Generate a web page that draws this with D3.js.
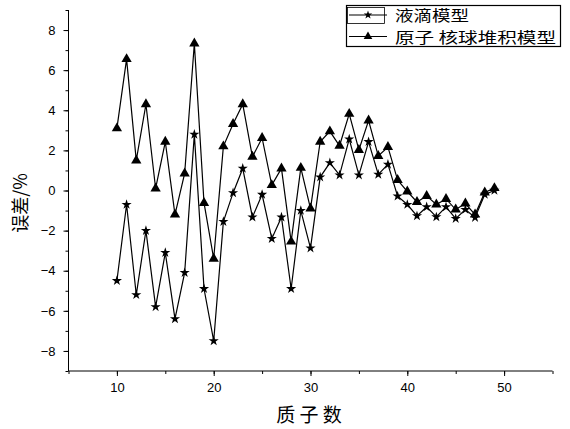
<!DOCTYPE html>
<html>
<head>
<meta charset="utf-8">
<script src="https://cdn.jsdelivr.net/npm/d3@7"></script>
<style>
  body { margin: 0; background: #fff; }
  text { font-family: "Liberation Sans", Arial, sans-serif; }
  .cjk { font-family: "Noto Sans CJK SC", sans-serif; }
</style>
</head>
<body>
<div id="chart"></div>
<script>
// chart size
const width = 570;
const height = 429;

// data
const protons = d3.range(10, 50); // 10 .. 49
const dropModel = [
  -4.5, -0.7, -5.2, -2.0, -5.8, -3.1, -6.4, -4.1, 2.8, -4.9,
  -7.5, -1.55, -0.12, 1.1, -1.33, -0.2, -2.4, -1.33, -4.9, -1.0,
  -2.87, 0.67, 1.38, 0.77, 2.56, 0.77, 2.43, 0.8, 1.3, -0.28,
  -0.7, -1.27, -0.82, -1.32, -0.82, -1.4, -0.95, -1.35, -0.2, 0.0
];
const packingModel = [
  3.1, 6.55, 1.5, 4.3, 0.1, 2.43, -1.2, 0.85, 7.33, -0.62,
  -3.4, 2.2, 3.32, 4.3, 1.68, 2.62, 0.27, 1.1, -2.55, 1.13,
  -0.9, 2.43, 2.95, 2.23, 3.82, 2.02, 3.49, 1.72, 2.17, 0.52,
  -0.05, -0.57, -0.27, -0.7, -0.42, -0.95, -0.65, -1.2, -0.1, 0.12
];
const xTicks = [10, 20, 30, 40, 50];
const yTicks = [-8, -6, -4, -2, 0, 2, 4, 6, 8];
const legendNames = ["液滴模型", "原子 核球堆积模型"];

const svg = d3.select("#chart")
  .append("svg")
  .attr("width", width)
  .attr("height", height);

// scales
const x = d3.scaleLinear().domain([5, 55]).range([68.5, 552.5]);
const y = d3.scaleLinear().domain([-9, 9]).range([371, 10]);

// x axis, major + minor ticks
svg.append("g")
  .attr("transform", `translate(0,${y(-9)})`)
  .call(d3.axisBottom(x).tickValues(d3.range(5, 56, 5)).tickSize(3).tickFormat(""))
  .call(g => g.select(".domain").attr("d", `M${x(5)},0H${x(55)}`));
svg.append("g")
  .attr("transform", `translate(0,${y(-9)})`)
  .call(d3.axisBottom(x).tickValues(xTicks).tickSize(5).tickPadding(7))
  .call(g => g.select(".domain").remove())
  .attr("font-size", "13px");

// y axis, major + minor ticks
svg.append("g")
  .attr("transform", `translate(${x(5)},0)`)
  .call(d3.axisLeft(y).tickValues(d3.range(-9, 10, 1)).tickSize(3).tickFormat(""))
  .call(g => g.select(".domain").attr("d", `M0,${y(-9)}V${y(9)}`));
svg.append("g")
  .attr("transform", `translate(${x(5)},0)`)
  .call(d3.axisLeft(y).tickValues(yTicks).tickSize(5).tickPadding(8))
  .call(g => g.select(".domain").remove())
  .attr("font-size", "13px");

svg.selectAll(".tick text").attr("font-family", "Liberation Sans, Arial, sans-serif");

// axis titles
svg.append("text")
  .attr("class", "cjk")
  .attr("x", 309).attr("y", 422)
  .attr("text-anchor", "middle")
  .attr("font-size", "19px")
  .text("质 子 数");

svg.append("text")
  .attr("class", "cjk")
  .attr("transform", "translate(27,203) rotate(-90)")
  .attr("text-anchor", "middle")
  .attr("font-size", "18px")
  .text("误差/%");

// lines + markers
const series = [
  {name: legendNames[0], values: dropModel, symbol: d3.symbolStar, size: 32, textLen: 74},
  {name: legendNames[1], values: packingModel, symbol: d3.symbolTriangle, size: 46, textLen: 161}
];

const line = d3.line()
  .x((d, i) => x(protons[i]))
  .y(d => y(d));

series.forEach(s => {
  svg.append("path")
    .datum(s.values)
    .attr("fill", "none")
    .attr("stroke", "#000")
    .attr("stroke-width", 1.2)
    .attr("d", line);

  svg.append("g")
    .selectAll("path")
    .data(s.values)
    .join("path")
    .attr("transform", (d, i) => `translate(${x(protons[i])},${y(d)})`)
    .attr("d", d3.symbol().type(s.symbol).size(s.size))
    .attr("fill", "#000");
});

// legend
const legend = svg.append("g");
legend.append("rect")
  .attr("x", 346.5).attr("y", 5.5)
  .attr("width", 214).attr("height", 41)
  .attr("fill", "#fff")
  .attr("stroke", "#000")
  .attr("stroke-width", 1.2);
// little frame around the first sample, as in the picture
legend.append("rect")
  .attr("x", 347.5).attr("y", 7.5)
  .attr("width", 37).attr("height", 16)
  .attr("fill", "none")
  .attr("stroke", "#000")
  .attr("stroke-width", 0.8);

series.forEach((s, i) => {
  const ly = 15 + i * 21.5;
  legend.append("line")
    .attr("x1", 349).attr("x2", 387)
    .attr("y1", ly).attr("y2", ly)
    .attr("stroke", "#000")
    .attr("stroke-width", 1.2);
  legend.append("path")
    .attr("transform", `translate(368,${ly})`)
    .attr("d", d3.symbol().type(s.symbol).size(s.size * 0.7))
    .attr("fill", "#000");
  legend.append("text")
    .attr("class", "cjk")
    .attr("x", 395).attr("y", ly + 6)
    .attr("font-size", "14.5px")
    .attr("textLength", s.textLen)
    .attr("lengthAdjust", "spacingAndGlyphs")
    .text(s.name);
});
</script>
</body>
</html>
